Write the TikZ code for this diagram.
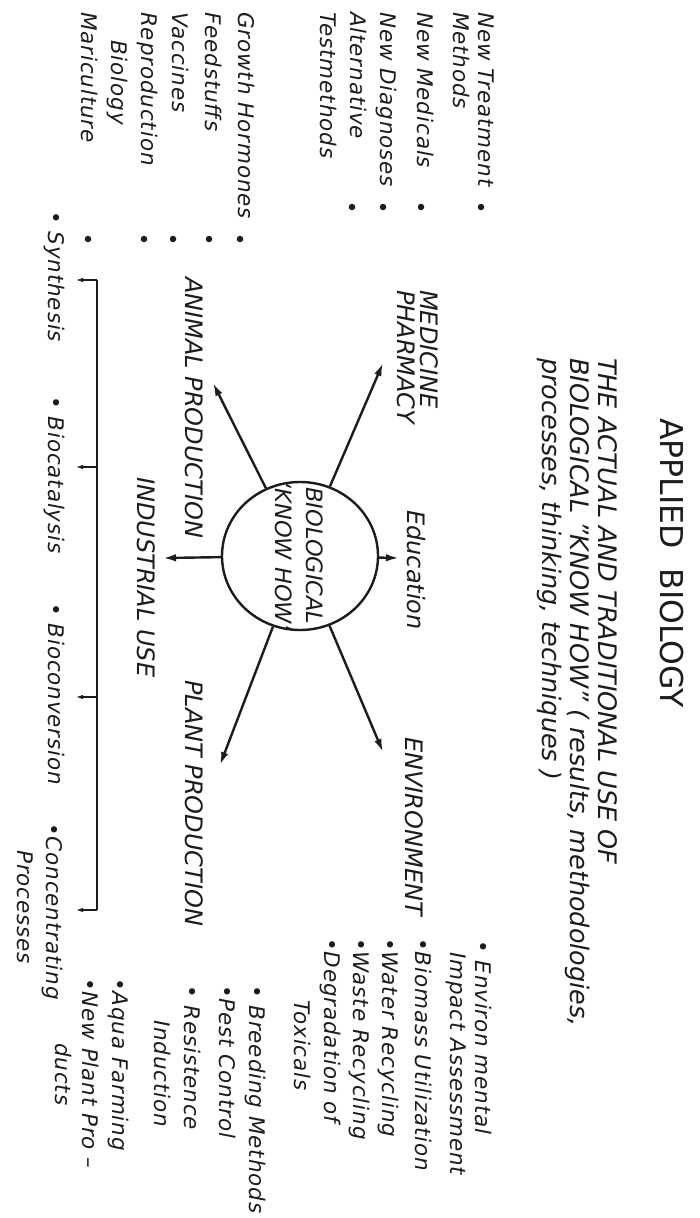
\documentclass[tikz,border=0pt]{standalone}
\usepackage{fontspec}
\setmainfont{DejaVu Sans}
\newfontfamily\itemfont{DejaVu Sans}[LetterSpace=4]
\usetikzlibrary{arrows.meta,shapes.geometric}
\definecolor{ink}{RGB}{28,28,28}
\begin{document}
\begin{tikzpicture}[x=1pt,y=1pt]
\fill[white] (0,0) rectangle (699,-1218);
\useasboundingbox (0,0) rectangle (699,-1218);
\begin{scope}[rotate=-90, transform shape,
  txt/.style={inner sep=0pt, anchor=base west, text=ink, font=\fontsize{21.5}{25}\itemfont\itshape},
  lab/.style={inner sep=0pt, anchor=base west, text=ink, font=\fontsize{24}{28}\selectfont\itshape},
  dotmark/.style={circle, fill=ink, inner sep=0pt, minimum size=6.5pt},
  ray/.style={draw=ink, line width=2.4pt, -{Latex[length=13pt,width=7.5pt]}},
  tick/.style={draw=ink, line width=1.2pt, -{Latex[length=7pt,width=4.5pt]}}]

% title
\node[inner sep=0pt, anchor=base west, text=ink, font=\fontsize{31.5}{36}\selectfont] (title) at (418,660) {APPLIED\ \ BIOLOGY};
\node[inner sep=0pt, anchor=base west, text=ink, font=\fontsize{25.5}{29}\selectfont\itshape] (sub1) at (358,598) {THE ACTUAL AND TRADITIONAL USE OF};
\node[inner sep=0pt, anchor=base west, text=ink, font=\fontsize{25.5}{29}\selectfont\itshape] (sub2) at (358,570) {BIOLOGICAL "KNOW HOW" ( results, methodologies,};
\node[inner sep=0pt, anchor=base west, text=ink, font=\fontsize{25.5}{29}\selectfont\itshape] (sub3) at (358,542) {processes, thinking, techniques )};

% centre
\node[draw=ink, line width=2.4pt, ellipse, minimum width=148, minimum height=156, inner sep=0pt] (core) at (556,300) {};
\node[align=center, inner sep=0pt, text=ink, font=\fontsize{22.5}{31}\selectfont\itshape] (coretxt) at (556,299) {BIOLOGICAL\\‘KNOW HOW’};

% rays
\coordinate (tmed) at (363,383);
\coordinate (tani) at (383,213);
\coordinate (tpla) at (765,220);
\coordinate (tenv) at (752,383);
\coordinate (tedu) at (558,399);
\coordinate (tind) at (558,163);
\draw[ray] (core) -- (tmed);
\draw[ray] (core) -- (tani);
\draw[ray] (core) -- (tpla);
\draw[ray] (core) -- (tenv);
\draw[ray] (core) -- (tedu);
\draw[ray] (core) -- (tind);

% labels
\node[lab] (med1) at (290,420) {MEDICINE};
\node[lab] (med2) at (290,397) {PHARMACY};
\node[lab] (animal) at (277,185) {ANIMAL PRODUCTION};
\node[lab] (indus) at (477,137) {INDUSTRIAL USE};
\node[lab] (educ) at (510,407) {Education};
\node[lab] (plant) at (680,185) {PLANT PRODUCTION};
\node[lab] (env) at (737,405) {ENVIRONMENT};

% medicine list
\node[txt] (m1) at (12,478) {New Treatment};
\node[txt] (m2) at (12,453) {Methods};
\node[txt] (m3) at (12,417) {New Medicals};
\node[txt] (m4) at (12,380) {New Diagnoses};
\node[txt] (m5) at (12,350) {Alternative};
\node[txt] (m6) at (12,320) {Testmethods};
\node[dotmark] (md1) at (207,481) {};
\node[dotmark] (md2) at (207,421) {};
\node[dotmark] (md3) at (207,383) {};
\node[dotmark] (md4) at (207,352) {};

% animal list
\node[txt] (an1) at (12,238) {Growth Hormones};
\node[txt] (an2) at (12,205) {Feedstuffs};
\node[txt] (an3) at (12,172) {Vaccines};
\node[txt] (an4) at (12,141) {Reproduction};
\node[txt] (an5) at (40,111) {Biology};
\node[txt] (an6) at (12,81) {Mariculture};
\node[dotmark] (ad1) at (239,240) {};
\node[dotmark] (ad2) at (239,209) {};
\node[dotmark] (ad3) at (239,173) {};
\node[dotmark] (ad4) at (239,144) {};
\node[dotmark] (ad5) at (239,88) {};

% industrial bracket
\coordinate (bk1) at (280,97);
\coordinate (bk2) at (467,97);
\coordinate (bk3) at (697,97);
\coordinate (bk4) at (910,97);
\coordinate (tk1) at (280,76);
\coordinate (tk2) at (467,76);
\coordinate (tk3) at (697,76);
\coordinate (tk4) at (910,76);
\draw[draw=ink, line width=1.2pt] (bk1) -- (bk4);
\draw[tick] (bk1) -- (tk1);
\draw[tick] (bk2) -- (tk2);
\draw[tick] (bk3) -- (tk3);
\draw[tick] (bk4) -- (tk4);
\node[txt] (syn) at (211,48) {• Synthesis};
\node[txt] (bcat) at (396,48) {• Biocatalysis};
\node[txt] (bcon) at (603,48) {• Bioconversion};
\node[txt] (conc) at (823,46) {•Concentrating};
\node[txt] (proc) at (850,17) {Processes};

% environment list
\node[txt] (e1) at (940,475) {• Environ mental};
\node[txt] (e2) at (952,450) {Impact Assessment};
\node[txt] (e3) at (938,415) {•Biomass Utilization};
\node[txt] (e4) at (938,382) {•Water Recycling};
\node[txt] (e5) at (938,353) {•Waste Recycling};
\node[txt] (e6) at (938,324) {•Degradation of};
\node[txt] (e7) at (1000,294) {Toxicals};

% plant list
\node[txt] (p1) at (985,249) {• Breeding Methods};
\node[txt] (p2) at (985,219) {•Pest Control};
\node[txt] (p3) at (985,184) {• Resistence};
\node[txt] (p4) at (1020,154) {Induction};
\node[txt] (p5) at (978,112) {•Aqua Farming};
\node[txt] (p6) at (978,82) {•New Plant Pro –};
\node[txt] (p7) at (1043,55) {ducts};
\end{scope}
\end{tikzpicture}
\end{document}
